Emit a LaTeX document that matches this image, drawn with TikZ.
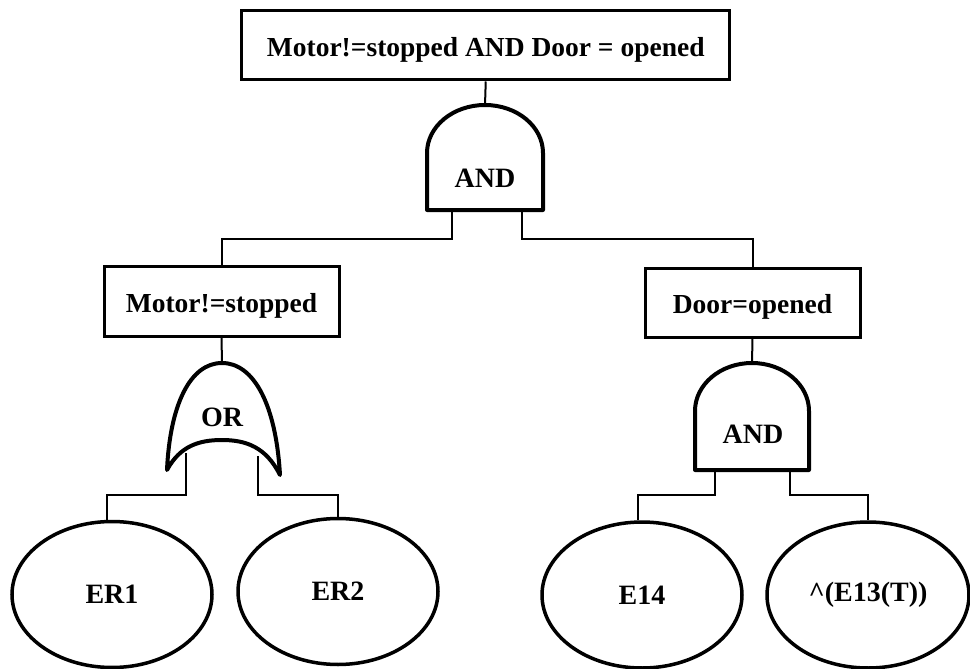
\documentclass[tikz,border=0pt]{standalone}
\usepackage{fontspec}
\setmainfont{Liberation Serif}
\usetikzlibrary{shapes.geometric,calc}
\tikzset{
  lbl/.style={font=\fontsize{28}{30}\selectfont\bfseries, inner sep=0pt},
  eventbox/.style={draw, line width=3pt, rectangle, inner sep=0pt, text height=28pt, text depth=6pt, font=\fontsize{27.5}{30}\selectfont\bfseries},
  basic/.style={draw, line width=3.5pt, ellipse, inner sep=0pt, minimum width=200pt, minimum height=146pt, font=\fontsize{28}{30}\selectfont\bfseries},
  gate/.style={draw, line width=4pt, line join=round},
  wire/.style={draw, line width=2pt}
}
\begin{document}
\begin{tikzpicture}[x=1pt,y=-1pt]
  \useasboundingbox (0,0) rectangle (970,669);

  % events
  \node[eventbox, minimum width=488pt, minimum height=69pt] (top) at (485.75,45.5) {Motor!=stopped AND Door = opened};
  \node[eventbox, minimum width=235pt, minimum height=70pt] (mb) at (221.5,301) {Motor!=stopped};
  \node[eventbox, minimum width=215pt, minimum height=69pt] (db) at (752.5,302.5) {Door=opened};

  % basic events
  \node[basic] (er1) at (112,594.5) {ER1};
  \node[basic] (er2) at (338,591.5) {ER2};
  \node[basic] (e14) at (642,595) {E14};
  \node[basic, minimum width=202pt] (e13) at (868,595) {\^{}(E13(T))};

  % top AND gate
  \draw[gate] (427,210) -- (427,153) arc[start angle=180, end angle=360, x radius=58, y radius=48] -- (543,210) -- cycle;
  \node[lbl] (g1) at (485,178) {AND};
  \coordinate (g1t) at (485,105);
  \coordinate (g1l) at (452,210);
  \coordinate (g1r) at (522,210);

  % OR gate under Motor!=stopped
  \draw[gate] (167,470) .. controls (170,405) and (190,363) .. (222,363)
              .. controls (254,363) and (276,405) .. (280,475)
              .. controls (266,447) and (246,440) .. (222,440)
              .. controls (199,440) and (180,446) .. cycle;
  \node[lbl] (org) at (222,417) {OR};
  \coordinate (ort) at (222,363);
  \coordinate (orl) at (186,453);
  \coordinate (orr) at (258,456);

  % AND gate under Door=opened
  \draw[gate] (695,470) -- (695,411) arc[start angle=180, end angle=360, x radius=57, y radius=48] -- (809,470) -- cycle;
  \node[lbl] (g2) at (753,434) {AND};
  \coordinate (g2t) at (752,363);
  \coordinate (g2l) at (715,470);
  \coordinate (g2r) at (790,470);

  % junction points of the connectors
  \coordinate (j1) at (452,239);
  \coordinate (j2) at (522,239);
  \coordinate (j3) at (186,495);
  \coordinate (j4) at (258,495);
  \coordinate (j5) at (715,495);
  \coordinate (j6) at (790,495);

  % connectors
  \draw[wire] (top.south) -- (g1t);
  \draw[wire] (g1l) -- (j1) -| (mb.north);
  \draw[wire] (g1r) -- (j2) -| (db.north);
  \draw[wire] (mb.south) -- (ort);
  \draw[wire] (db.south) -- (g2t);
  \draw[wire] (orl) -- (j3) -| (er1.94);
  \draw[wire] (orr) -- (j4) -| (er2.north);
  \draw[wire] (g2l) -- (j5) -| (e14.93);
  \draw[wire] (g2r) -- (j6) -| (e13.north);
\end{tikzpicture}
\end{document}
